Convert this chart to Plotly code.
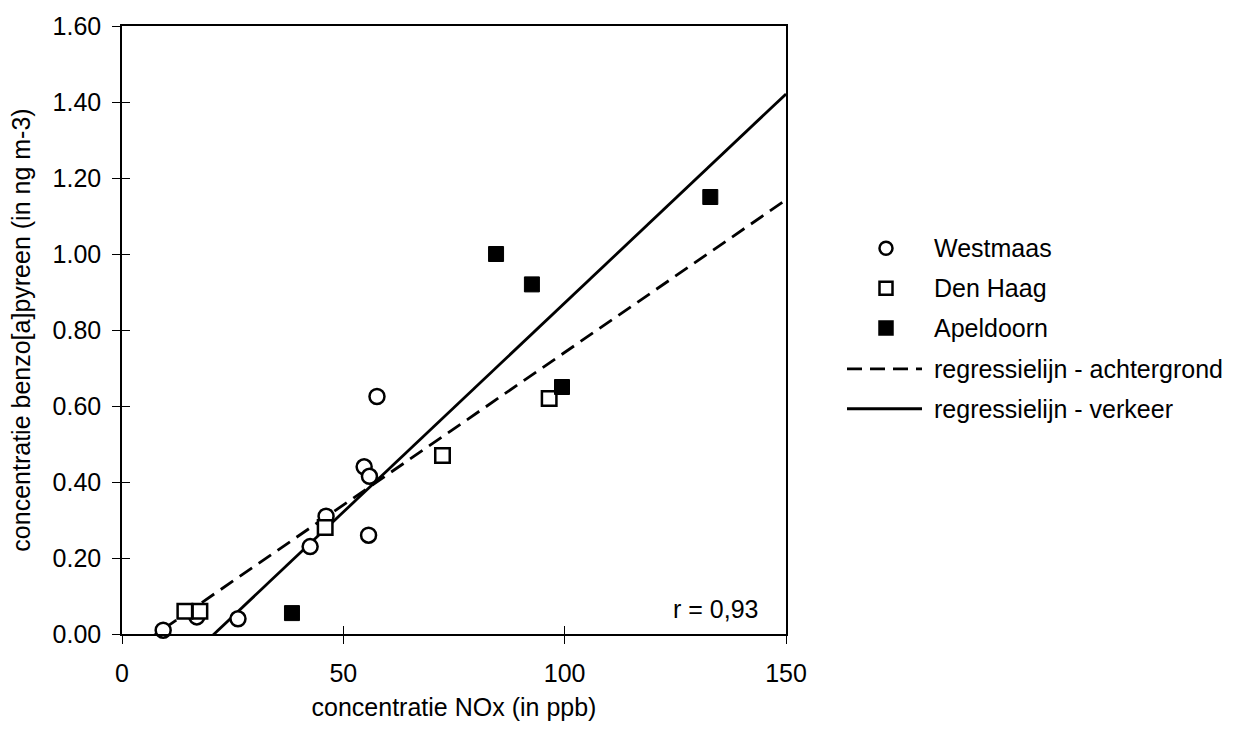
import plotly.graph_objects as go

# Measurements per location: NOx (ppb) and benzo[a]pyrene (ng m-3)
westmaas_nox = [9.3, 16.9, 26.2, 42.5, 46.1, 54.7, 55.7, 55.9, 57.6]
westmaas_bap = [0.01, 0.045, 0.04, 0.23, 0.31, 0.44, 0.26, 0.415, 0.625]

denhaag_nox = [14.2, 17.6, 45.9, 72.4, 96.5]
denhaag_bap = [0.06, 0.06, 0.28, 0.47, 0.62]

apeldoorn_nox = [38.4, 84.5, 92.6, 99.4, 132.9]
apeldoorn_bap = [0.055, 1.00, 0.92, 0.65, 1.15]

# Regression lines: slope, intercept, x start, x end
bg_slope, bg_intercept, bg_x = 0.00803, -0.062, [5.2, 150]
tr_slope, tr_intercept, tr_x = 0.0110, -0.229, [19.0, 150]

x_ticks = [0, 50, 100, 150]
y_ticks = [0.0, 0.2, 0.4, 0.6, 0.8, 1.0, 1.2, 1.4, 1.6]

FONT = "Liberation Sans, Arial, sans-serif"
FS = 25
LW = 2.8

fig = go.Figure()

fig.add_trace(go.Scatter(
    x=bg_x, y=[bg_slope * v + bg_intercept for v in bg_x],
    mode="lines", line=dict(color="black", width=LW, dash="15px,8px"),
    name="regressielijn - achtergrond", showlegend=False))
fig.add_trace(go.Scatter(
    x=tr_x, y=[tr_slope * v + tr_intercept for v in tr_x],
    mode="lines", line=dict(color="black", width=LW),
    name="regressielijn - verkeer", showlegend=False))

marker_line = dict(color="black", width=2.5)
fig.add_trace(go.Scatter(
    x=westmaas_nox, y=westmaas_bap, mode="markers", name="Westmaas",
    marker=dict(symbol="circle", size=15, color="white", line=marker_line),
    cliponaxis=False, showlegend=False))
fig.add_trace(go.Scatter(
    x=denhaag_nox, y=denhaag_bap, mode="markers", name="Den Haag",
    marker=dict(symbol="square", size=14.5, color="white", line=marker_line),
    cliponaxis=False, showlegend=False))
fig.add_trace(go.Scatter(
    x=apeldoorn_nox, y=apeldoorn_bap, mode="markers", name="Apeldoorn",
    marker=dict(symbol="square", size=15, color="black", line=dict(color="black", width=1)),
    cliponaxis=False, showlegend=False))

# empty trace so the inside-tick overlay axes get drawn
fig.add_trace(go.Scatter(x=[None], y=[None], xaxis="x2", yaxis="y2",
                         mode="markers", showlegend=False, hoverinfo="skip"))

# Plot area geometry in pixels (for the hand-built legend)
L, R, T, B = 122, 786, 24, 634
W, H = R - L, B - T


def px(xp):
    return (xp - L) / W


def py(yp):
    return (B - yp) / H


shapes = []
annotations = []
legend_rows = [
    ("Westmaas", "circle", 247),
    ("Den Haag", "square", 287),
    ("Apeldoorn", "filled", 327),
    ("regressielijn - achtergrond", "dash", 368),
    ("regressielijn - verkeer", "solid", 408),
]
for label, kind, yp in legend_rows:
    if kind in ("circle", "square", "filled"):
        shapes.append(dict(
            type="circle" if kind == "circle" else "rect",
            xref="paper", yref="paper",
            xsizemode="pixel", ysizemode="pixel",
            xanchor=px(886), yanchor=py(yp),
            x0=-6.5, x1=6.5, y0=-6.5, y1=6.5,
            line=dict(color="black", width=2.5),
            fillcolor="black" if kind == "filled" else "white"))
    else:
        shapes.append(dict(
            type="line", xref="paper", yref="paper",
            x0=px(847), x1=px(922), y0=py(yp), y1=py(yp),
            line=dict(color="black", width=LW,
                      dash="15px,8px" if kind == "dash" else "solid")))
    annotations.append(dict(
        text=label, xref="paper", yref="paper", x=px(932), y=py(yp),
        xanchor="left", yanchor="middle", showarrow=False,
        font=dict(family=FONT, size=FS, color="black")))

annotations.append(dict(
    text="r = 0,93", xref="paper", yref="paper", x=px(760), y=py(609),
    xanchor="right", yanchor="middle", showarrow=False,
    font=dict(family=FONT, size=FS, color="black")))

axis_common = dict(showgrid=False, zeroline=False, linecolor="black",
                   linewidth=1.5, tickcolor="black", tickwidth=1.3,
                   ticklen=8, tickfont=dict(family=FONT, size=FS, color="black"))

fig.update_layout(
    width=1244, height=739,
    margin=dict(l=L, r=1244 - R, t=T, b=739 - B),
    paper_bgcolor="white", plot_bgcolor="white",
    font=dict(family=FONT, size=FS, color="black"),
    xaxis=dict(range=[0, 150], tickvals=x_ticks, ticks="outside",
               showline=True, mirror=True, ticklabelstandoff=8,
               title=dict(text="concentratie NOx (in ppb)", standoff=13,
                          font=dict(family=FONT, size=FS)),
               **axis_common),
    yaxis=dict(range=[0, 1.6], tickvals=y_ticks, tickformat=".2f",
               ticks="outside", showline=True, mirror=True,
               ticklabelstandoff=6,
               title=dict(text="concentratie benzo[a]pyreen (in ng m-3)",
                          standoff=15, font=dict(family=FONT, size=FS)),
               **axis_common),
    # inside ticks so the tick marks cross the axis lines
    xaxis2=dict(range=[0, 150], tickvals=x_ticks, ticks="inside",
                overlaying="x", anchor="y", showticklabels=False,
                showline=False, showgrid=False, zeroline=False,
                tickcolor="black", tickwidth=1.3, ticklen=8),
    yaxis2=dict(range=[0, 1.6], tickvals=y_ticks, ticks="inside",
                overlaying="y", anchor="x", side="left", showticklabels=False,
                showline=False, showgrid=False, zeroline=False,
                tickcolor="black", tickwidth=1.3, ticklen=8),
    shapes=shapes,
    annotations=annotations,
)

fig.write_html("out.html")
